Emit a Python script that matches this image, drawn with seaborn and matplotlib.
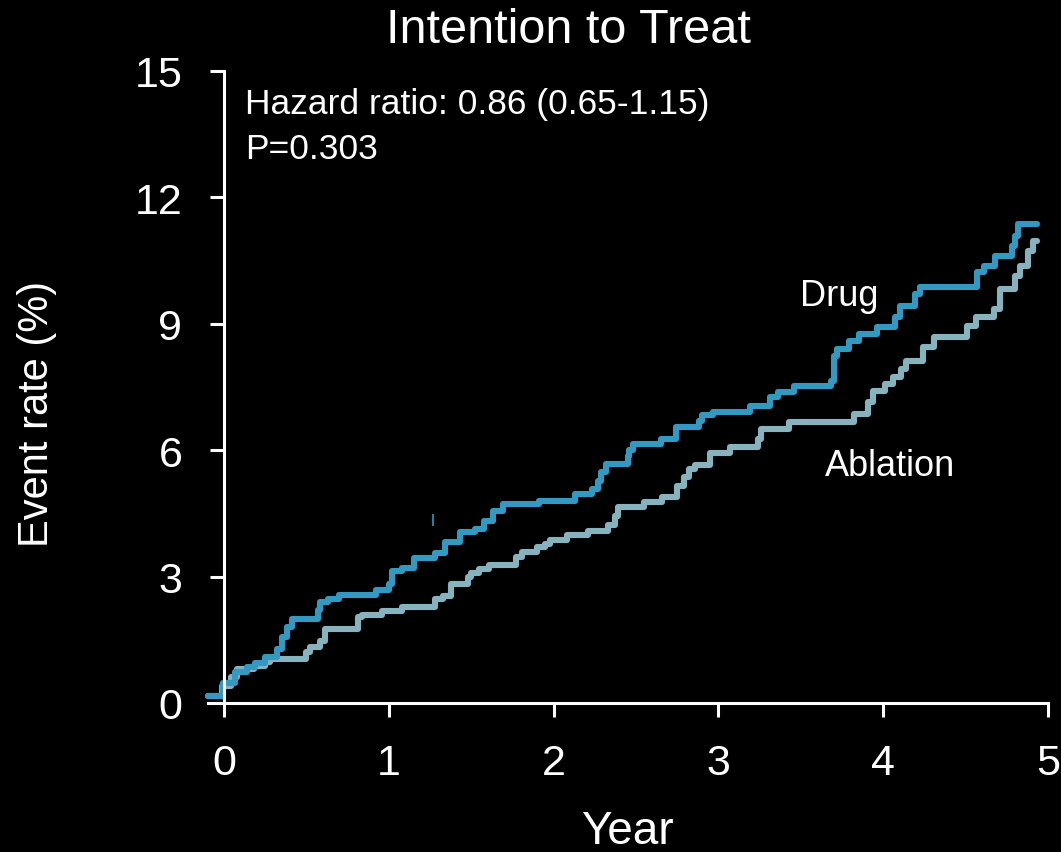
import matplotlib
matplotlib.use("Agg")
import matplotlib.pyplot as plt
import numpy as np
import pandas as pd
import seaborn as sns

# Kaplan-Meier style cumulative event rates (step times in years, rate in %)
drug_years = [-0.10, -0.006, 0.067, 0.14, 0.19, 0.25, 0.32, 0.35, 0.38, 0.41,
              0.57, 0.58, 0.63, 0.70, 0.92, 1.00, 1.02, 1.08, 1.15, 1.28,
              1.34, 1.43, 1.52, 1.58, 1.63, 1.69, 1.91, 2.13, 2.23, 2.27,
              2.29, 2.32, 2.45, 2.46, 2.48, 2.65, 2.74, 2.88, 2.90, 2.97,
              3.19, 3.31, 3.36, 3.46, 3.68, 3.70, 3.72, 3.79, 3.85, 3.96,
              4.07, 4.10, 4.19, 4.22, 4.57, 4.61, 4.68, 4.78, 4.80, 4.82,
              4.93]
drug_rate = [0.16, 0.47, 0.74, 0.85, 0.95, 1.09, 1.28, 1.57, 1.80, 2.00,
             2.20, 2.40, 2.47, 2.56, 2.68, 2.82, 3.13, 3.20, 3.44, 3.56,
             3.82, 4.06, 4.13, 4.32, 4.56, 4.72, 4.80, 4.96, 5.08, 5.27,
             5.48, 5.67, 5.87, 6.00, 6.15, 6.27, 6.55, 6.70, 6.84, 6.90,
             7.05, 7.26, 7.38, 7.53, 7.64, 8.24, 8.40, 8.60, 8.76, 8.92,
             9.16, 9.42, 9.71, 9.87, 10.23, 10.37, 10.61, 10.85, 11.08, 11.37,
             11.37]

ablation_years = [-0.10, -0.01, 0.04, 0.08, 0.18, 0.25, 0.28, 0.50, 0.52, 0.58,
                  0.61, 0.81, 0.84, 0.96, 1.08, 1.28, 1.33, 1.38, 1.48, 1.50,
                  1.55, 1.61, 1.77, 1.81, 1.90, 1.95, 1.98, 2.08, 2.21, 2.33,
                  2.37, 2.39, 2.55, 2.66, 2.75, 2.79, 2.82, 2.86, 2.95, 3.07,
                  3.24, 3.26, 3.43, 3.82, 3.91, 3.94, 4.01, 4.06, 4.11, 4.14,
                  4.24, 4.31, 4.51, 4.56, 4.67, 4.71, 4.80, 4.83, 4.88, 4.91,
                  4.93]
ablation_rate = [0.16, 0.40, 0.62, 0.80, 0.87, 0.97, 1.04, 1.20, 1.33, 1.48,
                 1.75, 2.04, 2.10, 2.18, 2.27, 2.47, 2.54, 2.82, 2.98, 3.08,
                 3.18, 3.28, 3.46, 3.58, 3.70, 3.77, 3.87, 3.99, 4.08, 4.22,
                 4.44, 4.65, 4.77, 4.90, 5.15, 5.36, 5.55, 5.65, 5.93, 6.07,
                 6.27, 6.50, 6.67, 6.86, 7.14, 7.41, 7.57, 7.74, 7.93, 8.12,
                 8.45, 8.69, 8.95, 9.16, 9.35, 9.83, 10.14, 10.37, 10.73, 10.97,
                 10.97]

# isolated censoring tick on the drug arm
censor_year = [1.268]
censor_low = [4.20]
censor_high = [4.49]

groups = ["Drug", "Ablation"]
y_ticks = [0, 3, 6, 9, 12, 15]
x_ticks = [0, 1, 2, 3, 4, 5]

df = pd.concat([
    pd.DataFrame({"Year": drug_years, "Rate": drug_rate, "Arm": "Drug"}),
    pd.DataFrame({"Year": ablation_years, "Rate": ablation_rate, "Arm": "Ablation"}),
], ignore_index=True)

palette = {"Drug": "#3399c0", "Ablation": "#86b3be"}

sns.set_style("dark", {"axes.facecolor": "black", "figure.facecolor": "black",
                       "axes.grid": False})
plt.rcParams["font.family"] = ["Liberation Sans", "DejaVu Sans"]

fig = plt.figure(figsize=(10.61, 8.53), dpi=100)
ax = fig.add_axes([0.1956, 0.1747, 0.7922, 0.7409])
ax.set_facecolor("black")

sns.lineplot(data=df, x="Year", y="Rate", hue="Arm", hue_order=groups[::-1],
             palette=palette, drawstyle="steps-post", estimator=None,
             linewidth=4.4, legend=False, ax=ax, clip_on=False)
ax.vlines(censor_year, censor_low, censor_high, color="#2a7fa0", linewidth=1.5)

ax.set_xlim(-0.10, 5.0)
ax.set_ylim(0, 15)
ax.set_xticks(x_ticks)
ax.set_yticks(y_ticks)

for side in ("top", "right"):
    ax.spines[side].set_visible(False)
for side in ("left", "bottom"):
    ax.spines[side].set_color("white")
    ax.spines[side].set_linewidth(2.2)
ax.spines["left"].set_position(("data", 0))

ax.tick_params(axis="both", colors="white", direction="out", length=10,
               width=2.2, labelsize=31, bottom=True, left=True)
ax.tick_params(axis="y", pad=20)
ax.tick_params(axis="x", pad=19)

ax.set_xlabel("Year", color="white", fontsize=33)
ax.set_ylabel("Event rate (%)", color="white", fontsize=30)
ax.xaxis.set_label_coords(0.50, -0.168)
ax.yaxis.set_label_coords(-0.179, 0.459)

ax.text(0.429, 1.065, "Intention to Treat", transform=ax.transAxes,
        ha="center", va="center", color="white", fontsize=35)

ax.text(0.127, 14.22, "Hazard ratio: 0.86 (0.65-1.15)", color="white",
        fontsize=25.5, ha="left", va="center")
ax.text(0.127, 13.15, "P=0.303", color="white", fontsize=25.5,
        ha="left", va="center")
ax.text(3.495, 9.66, "Drug", color="white", fontsize=26, ha="left", va="center")
ax.text(3.647, 5.63, "Ablation", color="white", fontsize=26, ha="left", va="center")

fig.savefig("out.png", dpi=100, facecolor="black")
